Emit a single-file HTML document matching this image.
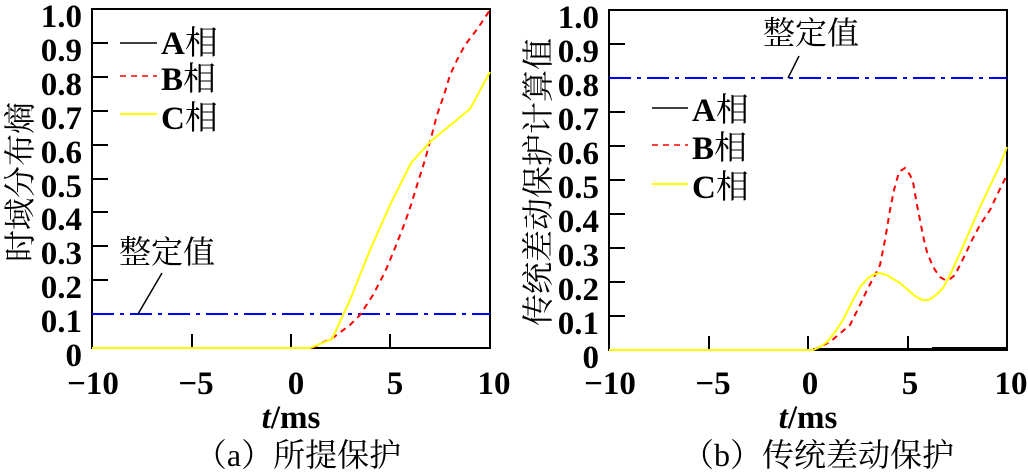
<!DOCTYPE html>
<html><head><meta charset="utf-8"><style>
html,body{margin:0;padding:0;background:#fff;}
svg{display:block;}
.t{font-family:"Liberation Serif","Noto Serif CJK SC",serif;font-weight:bold;font-size:33px;fill:#000;}
.c{font-family:"Liberation Serif","Noto Serif CJK SC",serif;font-size:32px;fill:#000;}
</style></head><body>
<svg width="1028" height="476" viewBox="0 0 1028 476" xmlns="http://www.w3.org/2000/svg">
<g>
<rect x="92" y="9" width="398" height="339" fill="none" stroke="#000" stroke-width="2"/>
<g stroke="#000" stroke-width="2">
<line x1="92" y1="43" x2="108" y2="43"/><line x1="92" y1="77" x2="108" y2="77"/><line x1="92" y1="111" x2="108" y2="111"/>
<line x1="92" y1="145" x2="108" y2="145"/><line x1="92" y1="179" x2="108" y2="179"/><line x1="92" y1="212" x2="108" y2="212"/>
<line x1="92" y1="246" x2="108" y2="246"/><line x1="92" y1="280" x2="108" y2="280"/><line x1="92" y1="314" x2="108" y2="314"/>
<line x1="192" y1="348" x2="192" y2="334"/><line x1="291" y1="348" x2="291" y2="334"/><line x1="390" y1="348" x2="390" y2="334"/>
</g>
<g class="t" text-anchor="end">
<text x="82" y="27">1.0</text><text x="82" y="61">0.9</text><text x="82" y="95">0.8</text><text x="82" y="129">0.7</text>
<text x="82" y="163">0.6</text><text x="82" y="197">0.5</text><text x="82" y="230">0.4</text><text x="82" y="264">0.3</text>
<text x="82" y="298">0.2</text><text x="82" y="332">0.1</text><text x="82" y="366">0</text>
</g>
<g class="t" text-anchor="middle">
<text x="93" y="394">−10</text><text x="196" y="394">−5</text><text x="296" y="394">0</text><text x="395" y="394">5</text><text x="494" y="394">10</text>
</g>
<text class="t" x="291" y="428" text-anchor="middle"><tspan font-style="italic">t</tspan>/ms</text>
<text class="c" x="298" y="466" text-anchor="middle">（a）所提保护</text>
<text class="c" transform="translate(31,182) rotate(-90)" text-anchor="middle" font-size="34">时域分布熵</text>
<line x1="92" y1="314" x2="490" y2="314" stroke="#0000ff" stroke-width="2" stroke-dasharray="22,6,4,6"/>
<line x1="138" y1="314" x2="162" y2="273" stroke="#000" stroke-width="1.5"/>
<text class="c" x="119" y="263" font-size="33">整定值</text>
<line x1="120" y1="43" x2="157" y2="43" stroke="#000" stroke-width="1.5"/>
<line x1="120" y1="76" x2="157" y2="76" stroke="#ff0000" stroke-width="1.5" stroke-dasharray="6,5"/>
<line x1="120" y1="114" x2="157" y2="114" stroke="#ffff00" stroke-width="2"/>
<text class="t" x="161" y="54">A<tspan font-weight="normal">相</tspan></text>
<text class="t" x="161" y="90">B<tspan font-weight="normal">相</tspan></text>
<text class="t" x="161" y="129">C<tspan font-weight="normal">相</tspan></text>
<polyline fill="none" stroke="#000" stroke-width="2" points="92,348 490,348"/>
<polyline fill="none" stroke="#ff0000" stroke-width="2" stroke-dasharray="6,5" points="312,348 334,337 350,325 360,315 373,295 385,272 395,248 404,225 411,205 418,182 425,160 431,138 437,115 444,95 450,75 458,58 465,45 478,28 490,10"/>
<polyline fill="none" stroke="#ffff00" stroke-width="2" points="92,348 310,348 332,339 350,300 370,250 390,205 411,163 431,141 470,109 490,72"/>
</g>
<g>
<rect x="609" y="10" width="398" height="340" fill="none" stroke="#000" stroke-width="2"/>
<g stroke="#000" stroke-width="2">
<line x1="609" y1="44" x2="625" y2="44"/><line x1="609" y1="78" x2="625" y2="78"/><line x1="609" y1="112" x2="625" y2="112"/>
<line x1="609" y1="146" x2="625" y2="146"/><line x1="609" y1="180" x2="625" y2="180"/><line x1="609" y1="214" x2="625" y2="214"/>
<line x1="609" y1="248" x2="625" y2="248"/><line x1="609" y1="282" x2="625" y2="282"/><line x1="609" y1="316" x2="625" y2="316"/>
<line x1="709" y1="350" x2="709" y2="336"/><line x1="808" y1="350" x2="808" y2="336"/><line x1="908" y1="350" x2="908" y2="336"/>
</g>
<g class="t" text-anchor="end">
<text x="599" y="28">1.0</text><text x="599" y="62">0.9</text><text x="599" y="96">0.8</text><text x="599" y="130">0.7</text>
<text x="599" y="164">0.6</text><text x="599" y="198">0.5</text><text x="599" y="232">0.4</text><text x="599" y="266">0.3</text>
<text x="599" y="300">0.2</text><text x="599" y="334">0.1</text><text x="599" y="368">0</text>
</g>
<g class="t" text-anchor="middle">
<text x="610" y="394">−10</text><text x="713" y="394">−5</text><text x="810" y="394">0</text><text x="910" y="394">5</text><text x="1011" y="394">10</text>
</g>
<text class="t" x="808" y="428" text-anchor="middle"><tspan font-style="italic">t</tspan>/ms</text>
<text class="c" x="818" y="466" text-anchor="middle">（b）传统差动保护</text>
<text class="c" transform="translate(549,182) rotate(-90)" text-anchor="middle" font-size="34">传统差动保护计算值</text>
<line x1="609" y1="78" x2="1007" y2="78" stroke="#0000ff" stroke-width="2" stroke-dasharray="22,6,4,6"/>
<line x1="788" y1="78" x2="799" y2="56" stroke="#000" stroke-width="1.5"/>
<text class="c" x="763" y="44" font-size="33">整定值</text>
<line x1="652" y1="108" x2="688" y2="108" stroke="#000" stroke-width="1.5"/>
<line x1="652" y1="145" x2="688" y2="145" stroke="#ff0000" stroke-width="1.5" stroke-dasharray="6,5"/>
<line x1="652" y1="184" x2="688" y2="184" stroke="#ffff00" stroke-width="2"/>
<text class="t" x="692" y="121">A<tspan font-weight="normal">相</tspan></text>
<text class="t" x="692" y="159">B<tspan font-weight="normal">相</tspan></text>
<text class="t" x="692" y="198">C<tspan font-weight="normal">相</tspan></text>
<polyline fill="none" stroke="#000" stroke-width="2" points="813,349 1007,349"/>
<line x1="932" y1="348.5" x2="1007" y2="348.5" stroke="#000" stroke-width="3"/>
<polyline fill="none" stroke="#ff0000" stroke-width="2" stroke-dasharray="6,5" points="813,350 830,342 850,325 860,305 867,290 875,275 880,265 885,240 890,210 894,190 899,172 905,168 910,175 913,182 917,205 920,220 924,240 927,252 931,262 935,270 940,277 945,280 950,279 955,275 960,265 965,255 972,240 980,225 990,210 997,195 1003,183 1007,175"/>
<polyline fill="none" stroke="#ffff00" stroke-width="2" points="609,350 813,350 820,347 827,342 835,332 843,320 851,304 860,287 868,278 875,274 880,273 887,275 893,279 900,283 908,290 915,296 922,300 928,300 932,298 937,294 943,288 950,275 955,264 960,253 970,230 980,207 990,186 1000,165 1007,147"/>
</g>
</svg>
</body></html>
